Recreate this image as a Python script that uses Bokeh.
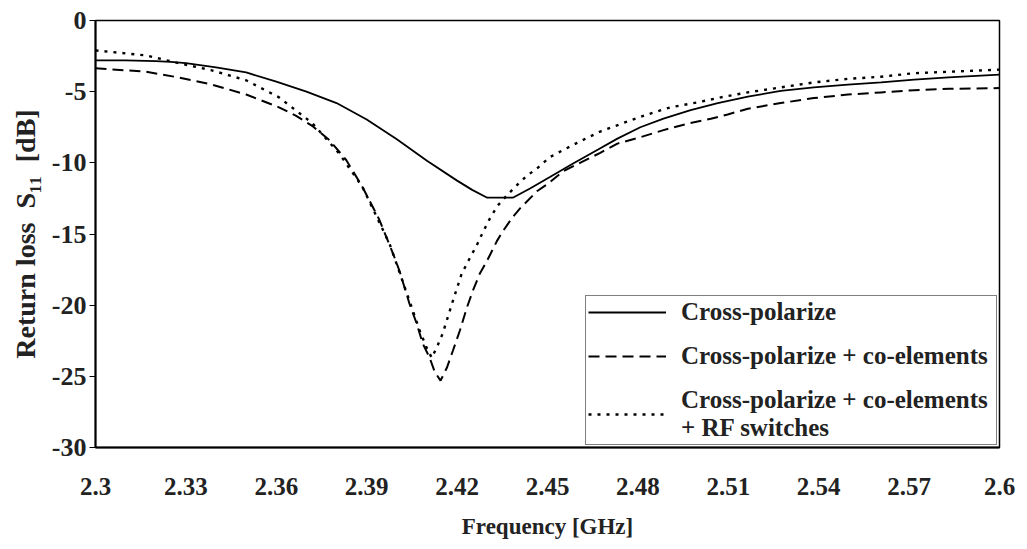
from bokeh.plotting import figure
from bokeh.models import Range1d, FixedTicker, Legend, LegendItem
from bokeh.embed import file_html
from bokeh.resources import INLINE

# ---- data ----
cross_f = [2.300, 2.310, 2.320, 2.325, 2.330, 2.340, 2.350, 2.360, 2.370, 2.380,
           2.390, 2.400, 2.410, 2.420, 2.425, 2.430, 2.4385, 2.4442, 2.4508, 2.4585,
           2.4665, 2.4732, 2.4808, 2.4885, 2.4975, 2.5065, 2.5165, 2.5274, 2.5384,
           2.5497, 2.5607, 2.5717, 2.5831, 2.600]
cross_db = [-2.8, -2.8, -2.85, -2.9, -3.0, -3.3, -3.65, -4.3, -5.0, -5.8,
            -6.95, -8.35, -9.85, -11.25, -11.9, -12.45, -12.45, -11.8, -11.0, -10.05,
            -9.1, -8.3, -7.5, -6.9, -6.3, -5.8, -5.35, -4.95, -4.7,
            -4.5, -4.35, -4.15, -4.0, -3.8]

coel_f = [2.300, 2.3167, 2.3276, 2.3386, 2.350, 2.3609, 2.3666, 2.3719, 2.3776, 2.3832,
          2.3886, 2.3942, 2.3986, 2.4009, 2.4042, 2.4066, 2.4086, 2.4109, 2.4126, 2.4145,
          2.4166, 2.4186, 2.4209, 2.4232, 2.4252, 2.4275, 2.4299, 2.4332, 2.4352, 2.4385,
          2.4409, 2.4465, 2.4499, 2.4552, 2.4608, 2.4675, 2.4732, 2.4808, 2.4885, 2.4965,
          2.5042, 2.5098, 2.5165, 2.5274, 2.5384, 2.5497, 2.5607, 2.5717, 2.5831, 2.600]
coel_db = [-3.35, -3.6, -4.0, -4.5, -5.2, -6.1, -6.7, -7.4, -8.4, -9.8,
           -11.7, -14.0, -16.3, -17.6, -19.9, -21.3, -22.7, -23.7, -24.7, -25.3,
           -24.4, -23.2, -21.8, -20.2, -19.0, -17.8, -16.9, -15.5, -14.8, -13.8,
           -13.2, -12.0, -11.5, -10.6, -10.0, -9.3, -8.65, -8.2, -7.7, -7.25,
           -6.9, -6.6, -6.2, -5.8, -5.45, -5.2, -5.05, -4.9, -4.8, -4.75]

rf_f = [2.300, 2.3167, 2.3276, 2.3386, 2.350, 2.3609, 2.3719, 2.3809, 2.3886, 2.3976,
        2.4042, 2.4076, 2.4099, 2.4116, 2.4136, 2.4152, 2.4186, 2.4215, 2.4242, 2.4265,
        2.4285, 2.4309, 2.4335, 2.4369, 2.4402, 2.4432, 2.4465, 2.4508, 2.4552, 2.4598,
        2.4675, 2.4752, 2.4832, 2.4908, 2.4998, 2.5075, 2.5165, 2.5274, 2.5384, 2.5497,
        2.5607, 2.5717, 2.5831, 2.600]
rf_db = [-2.1, -2.45, -3.0, -3.5, -4.2, -5.4, -7.2, -9.35, -11.7, -15.7,
         -19.7, -21.8, -23.0, -23.7, -22.8, -22.0, -19.7, -17.8, -16.7, -15.8,
         -14.9, -13.9, -13.0, -12.2, -11.5, -10.9, -10.4, -9.6, -9.1, -8.6,
         -7.8, -7.2, -6.6, -6.1, -5.75, -5.4, -5.05, -4.7, -4.35, -4.1,
         -3.95, -3.7, -3.6, -3.45]

x_ticks = [2.3, 2.33, 2.36, 2.39, 2.42, 2.45, 2.48, 2.51, 2.54, 2.57, 2.6]
x_tick_labels = ["2.3", "2.33", "2.36", "2.39", "2.42", "2.45", "2.48", "2.51", "2.54", "2.57", "2.6"]
y_ticks = [0, -5, -10, -15, -20, -25, -30]
y_tick_labels = ["0", "-5", "-10", "-15", "-20", "-25", "-30"]

series_names = ["Cross-polarize",
                "Cross-polarize + co-elements",
                "Cross-polarize + co-elements\n+ RF switches"]

FONT = "Liberation Serif"
NB = "\u00a0"

p = figure(width=1027, height=549, output_backend="svg", toolbar_location=None,
           x_range=Range1d(2.3, 2.6), y_range=Range1d(-30, 0),
           min_border_left=95, min_border_right=28, min_border_top=20, min_border_bottom=102)
p.background_fill_color = "white"
p.border_fill_color = "white"
p.xgrid.visible = False
p.ygrid.visible = False
p.outline_line_color = "black"
p.outline_line_width = 1.5

r1 = p.line(cross_f, cross_db, line_color="black", line_width=1.8)
r2 = p.line(coel_f, coel_db, line_color="black", line_width=2, line_dash="11 6")
r3 = p.line(rf_f, rf_db, line_color="black", line_width=2.4, line_dash="3 6")

# axes
p.xaxis.ticker = FixedTicker(ticks=x_ticks)
p.xaxis.major_label_overrides = {t: l for t, l in zip(x_ticks, x_tick_labels)}
p.yaxis.ticker = FixedTicker(ticks=y_ticks)
p.yaxis.major_label_overrides = {t: l for t, l in zip(y_ticks, y_tick_labels)}
for ax in (p.xaxis[0], p.yaxis[0]):
    ax.major_label_text_font = FONT
    ax.major_label_text_font_style = "bold"
    ax.major_label_text_color = "#222222"
    ax.axis_label_text_font = FONT
    ax.axis_label_text_font_style = "bold"
    ax.axis_label_text_color = "#222222"
    ax.minor_tick_line_color = None
    ax.axis_line_color = "black"
    ax.axis_line_width = 2
p.xaxis.major_label_text_font_size = "25px"
p.yaxis.major_label_text_font_size = "26px"
p.xaxis.axis_label_text_font_size = "23px"
p.yaxis.axis_label_text_font_size = "28px"
p.xaxis.major_tick_line_color = None
p.xaxis.major_label_standoff = 24
p.xaxis.axis_label = "Frequency [GHz]"
p.xaxis.axis_label_standoff = 16
p.yaxis.major_tick_out = 6
p.yaxis.major_tick_in = 0
p.yaxis.major_tick_line_color = "black"
p.yaxis.major_label_standoff = 3
p.yaxis.axis_label = "Return loss" + NB * 2 + "S\u2081\u2081" + NB * 2 + "[dB]"
p.yaxis.axis_label_standoff = 8

legend = Legend(items=[LegendItem(label=series_names[0], renderers=[r1]),
                       LegendItem(label=series_names[1], renderers=[r2]),
                       LegendItem(label=series_names[2], renderers=[r3])],
                location=(490, 2))
legend.label_text_font = FONT
legend.label_text_font_style = "bold"
legend.label_text_font_size = "25px"
legend.label_text_line_height = 1.26
legend.label_text_color = "#222222"
legend.glyph_width = 78
legend.glyph_height = 20
legend.label_standoff = 15
legend.label_width = 313
legend.spacing = 16
legend.padding = 2
legend.margin = 0
legend.border_line_color = "black"
legend.border_line_width = 1.2
legend.background_fill_color = "white"
legend.background_fill_alpha = 1.0
p.add_layout(legend, "center")

open("out.html", "w").write(file_html(p, INLINE))
